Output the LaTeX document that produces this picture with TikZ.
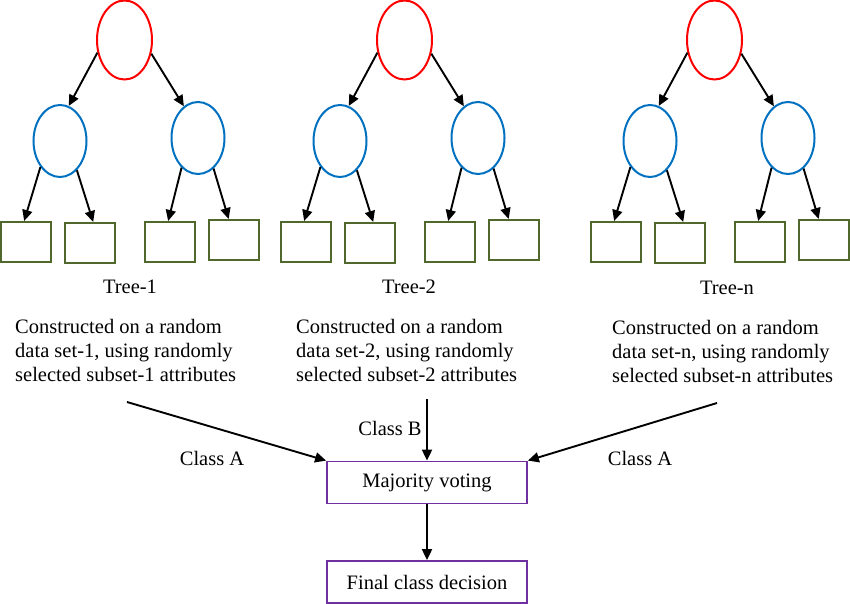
\documentclass[tikz,border=0pt]{standalone}
\usepackage{fontspec}
\setmainfont{Liberation Serif}
\usetikzlibrary{shapes.geometric,arrows.meta}
\definecolor{rootred}{RGB}{255,0,0}
\definecolor{nodeblue}{RGB}{0,112,192}
\definecolor{leafgreen}{RGB}{80,104,44}
\definecolor{votepurple}{RGB}{112,48,160}
\begin{document}
\begin{tikzpicture}[x=1pt,y=-1pt]
\tikzstyle{every node}+=[inner sep=0pt,font=\fontsize{20.5}{24}\selectfont]
\tikzstyle{rootnode}=[draw=rootred,ellipse,line width=2pt,minimum width=55pt,minimum height=79pt]
\tikzstyle{splitnode}=[draw=nodeblue,ellipse,line width=2pt,minimum width=53pt,minimum height=72pt]
\tikzstyle{leafbox}=[draw=leafgreen,rectangle,line width=2pt,minimum width=50pt,minimum height=40pt]
\tikzstyle{votebox}=[draw=votepurple,rectangle,line width=1.8pt,minimum width=200pt,minimum height=42pt]
\tikzstyle{arr}=[black,line width=1.9pt,-{Triangle[length=11pt,width=10pt]}]
\useasboundingbox (0,0) rectangle (850,604);
\node[rootnode] (r1) at (124.5,40) {};
\node[splitnode] (a1) at (60,141) {};
\node[splitnode] (b1) at (198,138) {};
\node[leafbox] (a1l) at (26,242) {};
\node[leafbox] (a1r) at (89.5,243) {};
\node[leafbox] (b1l) at (170,242) {};
\node[leafbox] (b1r) at (233.5,240) {};
\draw[arr] (r1.205) -- (a1.76);
\draw[arr] (r1.333) -- (b1.114);
\draw[arr] (a1.233) -- (a1l.95);
\draw[arr] (a1.300) -- (a1r.80);
\draw[arr] (b1.241) -- (b1l.95);
\draw[arr] (b1.297) -- (b1r.103);
\node[rootnode] (r2) at (404.5,40) {};
\node[splitnode] (a2) at (340,141) {};
\node[splitnode] (b2) at (478,138) {};
\node[leafbox] (a2l) at (306,242) {};
\node[leafbox] (a2r) at (369.5,243) {};
\node[leafbox] (b2l) at (450,242) {};
\node[leafbox] (b2r) at (513.5,240) {};
\draw[arr] (r2.205) -- (a2.76);
\draw[arr] (r2.333) -- (b2.114);
\draw[arr] (a2.233) -- (a2l.95);
\draw[arr] (a2.300) -- (a2r.80);
\draw[arr] (b2.241) -- (b2l.95);
\draw[arr] (b2.297) -- (b2r.103);
\node[rootnode] (rn) at (714.5,40) {};
\node[splitnode] (an) at (650,141) {};
\node[splitnode] (bn) at (788,138) {};
\node[leafbox] (anl) at (616,242) {};
\node[leafbox] (anr) at (679.5,243) {};
\node[leafbox] (bnl) at (760,242) {};
\node[leafbox] (bnr) at (823.5,240) {};
\draw[arr] (rn.205) -- (an.76);
\draw[arr] (rn.333) -- (bn.114);
\draw[arr] (an.233) -- (anl.95);
\draw[arr] (an.300) -- (anr.80);
\draw[arr] (bn.241) -- (bnl.95);
\draw[arr] (bn.297) -- (bnr.103);
\node (t1) at (130,287) {Tree-1};
\node (t2) at (409,287) {Tree-2};
\node (tn) at (727,288) {Tree-n};
\node[anchor=north west,align=left] (d1) at (15,319) {Constructed on a random\\data set-1, using randomly\\selected subset-1 attributes};
\node[anchor=north west,align=left] (d2) at (296,319) {Constructed on a random\\data set-2, using randomly\\selected subset-2 attributes};
\node[anchor=north west,align=left] (dn) at (612,320) {Constructed on a random\\data set-n, using randomly\\selected subset-n attributes};
\node (c1) at (212,458) {Class A};
\node (c2) at (390,428) {Class B};
\node (cn) at (640,458) {Class A};
\node[votebox] (maj) at (427,482.5) {Majority voting};
\node[votebox] (fin) at (427,582) {Final class decision};
\coordinate (s1) at (127,402);
\coordinate (s2) at (427,399);
\coordinate (sn) at (717,403);
\draw[arr] (s1) -- (maj.north west);
\draw[arr] (s2) -- (maj.north);
\draw[arr] (sn) -- (maj.north east);
\draw[arr] (maj) -- (fin);
\end{tikzpicture}
\end{document}
